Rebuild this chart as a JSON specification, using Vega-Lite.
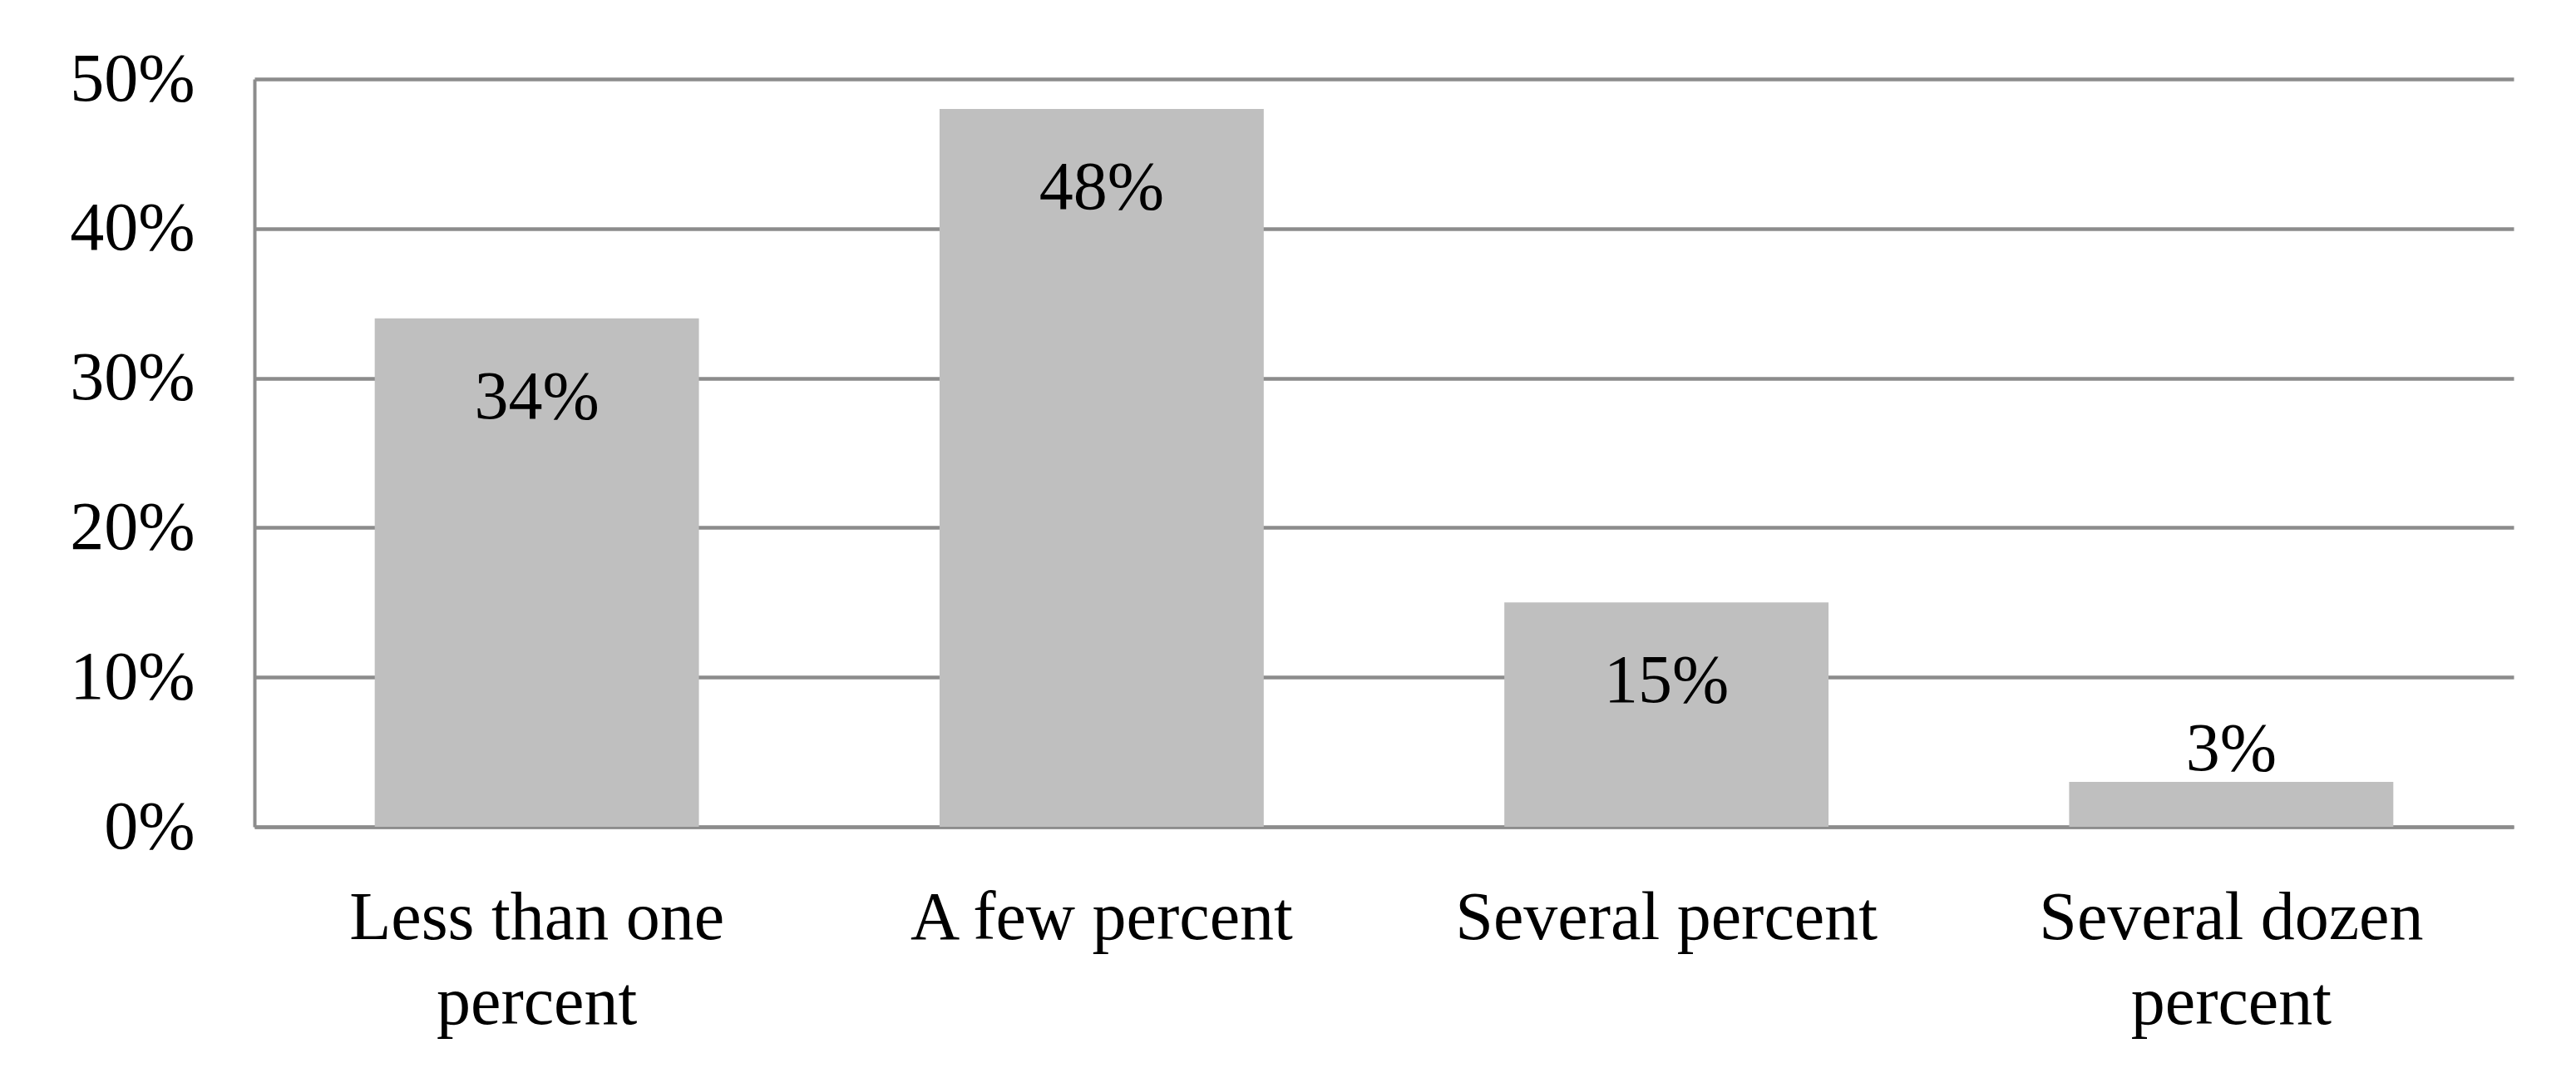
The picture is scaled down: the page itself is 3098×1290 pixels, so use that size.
{
  "$schema": "https://vega.github.io/schema/vega-lite/v6.json",
  "width": 2717,
  "height": 899,
  "autosize": {"type": "none"},
  "padding": {"left": 306, "top": 95, "right": 75, "bottom": 296},
  "background": "white",
  "config": {
    "view": {"stroke": null},
    "font": "Liberation Serif"
  },
  "data": {
    "values": [
      {"category": "Less than one percent", "share": 0.34},
      {"category": "A few percent", "share": 0.48},
      {"category": "Several percent", "share": 0.15},
      {"category": "Several dozen percent", "share": 0.03}
    ]
  },
  "encoding": {
    "x": {
      "field": "category",
      "type": "nominal",
      "sort": null,
      "scale": {"paddingInner": 0.426, "paddingOuter": 0.213},
      "axis": {
        "title": null,
        "labelAngle": 0,
        "labelFont": "Liberation Serif",
        "labelFontSize": 82,
        "labelColor": "black",
        "labelPadding": 69,
        "labelLineHeight": 102,
        "labelLimit": 2000,
        "labelExpr": "datum.label == 'Less than one percent' ? ['Less than one', 'percent'] : datum.label == 'Several dozen percent' ? ['Several dozen', 'percent'] : datum.label",
        "ticks": false,
        "domainColor": "#8c8c8c",
        "domainWidth": 4,
        "grid": false
      }
    },
    "y": {
      "field": "share",
      "type": "quantitative",
      "scale": {"domain": [0, 0.5], "nice": false},
      "axis": {
        "title": null,
        "format": ".0%",
        "values": [0, 0.1, 0.2, 0.3, 0.4, 0.5],
        "labelFont": "Liberation Serif",
        "labelFontSize": 82,
        "labelColor": "black",
        "labelPadding": 72,
        "ticks": false,
        "domainColor": "#8c8c8c",
        "domainWidth": 4,
        "grid": true,
        "gridColor": "#8c8c8c",
        "gridWidth": 4.5
      }
    }
  },
  "layer": [
    {
      "mark": {"type": "bar", "color": "#bfbfbf"}
    },
    {
      "transform": [{"filter": "datum.share >= 0.1"}],
      "mark": {"type": "text", "baseline": "middle", "dy": 95, "fontSize": 82, "font": "Liberation Serif", "color": "black"},
      "encoding": {"text": {"field": "share", "type": "quantitative", "format": ".0%"}}
    },
    {
      "transform": [{"filter": "datum.share < 0.1"}],
      "mark": {"type": "text", "baseline": "middle", "dy": -39, "fontSize": 82, "font": "Liberation Serif", "color": "black"},
      "encoding": {"text": {"field": "share", "type": "quantitative", "format": ".0%"}}
    }
  ]
}
